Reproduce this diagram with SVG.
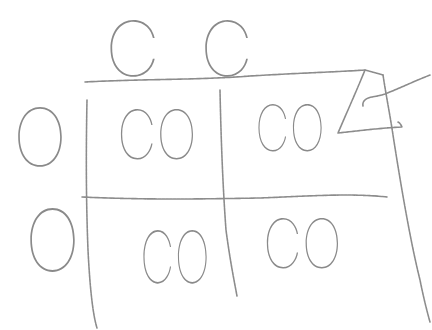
<svg xmlns="http://www.w3.org/2000/svg" width="432" height="330" viewBox="0 0 432 330">
<style>
.ink{fill:none;stroke:#8c8c8c;stroke-width:1.6;stroke-linecap:round;stroke-linejoin:round;stroke-dasharray:3 0.8}
.lbl{font-family:Inter,Roboto,"DejaVu Sans",sans-serif;font-weight:100;fill:#8a8a8a}
</style>
<rect width="432" height="330" fill="#fff"/>
<g id="connectors">
<path class="ink" d="M85,82 C140,79 200,80 250,76 C300,73 335,72 365,70 L383,75"/>
<path class="ink" d="M383,75 C386,95 390,115 393,135 C400,180 410,240 420,280 C424,300 428,315 430,322"/>
<path class="ink" d="M87,100 C86,150 86,200 88,250 C90,290 93,315 97,328"/>
<path class="ink" d="M220,90 C221,140 223,190 226,230 C230,260 234,280 237,296"/>
<path class="ink" d="M82,197 C150,200 200,199 260,198 C310,196 350,193 387,197"/>
<path class="ink" d="M365,70 C356,92 347,112 338,133 C357,131 380,128 402,127 C401,125 400,123 398,122"/>
<path class="ink" d="M363,106 C362,101 366,98 372,97 C378,96 382,95 385,94 C400,88 415,81 430,75"/>
</g>
<g id="allele-C1"><text class="lbl" x="105" y="76" font-size="76" textLength="55" lengthAdjust="spacingAndGlyphs">C</text></g>
<g id="allele-C2"><text class="lbl" x="200" y="76" font-size="76" textLength="53" lengthAdjust="spacingAndGlyphs">C</text></g>
<g id="allele-O1"><text class="lbl" x="13" y="166" font-size="80" textLength="54" lengthAdjust="spacingAndGlyphs">O</text></g>
<g id="allele-O2"><text class="lbl" x="25" y="271" font-size="86" textLength="55" lengthAdjust="spacingAndGlyphs">O</text></g>
<g id="cell-1-1"><text class="lbl" x="117" y="159" font-size="68" textLength="80" lengthAdjust="spacingAndGlyphs">CO</text></g>
<g id="cell-1-2"><text class="lbl" x="255" y="151" font-size="64" textLength="70" lengthAdjust="spacingAndGlyphs">CO</text></g>
<g id="cell-2-1"><text class="lbl" x="140" y="283" font-size="72" textLength="70" lengthAdjust="spacingAndGlyphs">CO</text></g>
<g id="cell-2-2"><text class="lbl" x="263" y="268" font-size="68" textLength="79" lengthAdjust="spacingAndGlyphs">CO</text></g>
</svg>
